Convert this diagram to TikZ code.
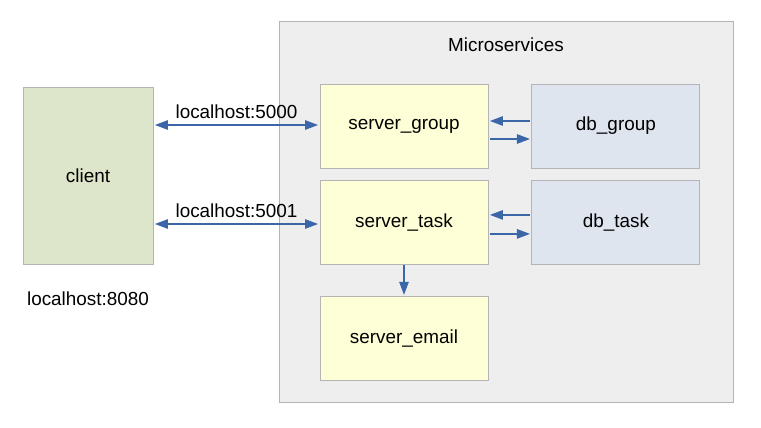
\documentclass[tikz,border=0pt]{standalone}
\usepackage{fontspec}
\setmainfont{Liberation Sans}
\usetikzlibrary{arrows.meta,positioning}

\definecolor{linkblue}{HTML}{3B67A9}
\definecolor{boxgray}{HTML}{B4B4B4}
\definecolor{clientgreen}{HTML}{DDE6CA}
\definecolor{serveryellow}{HTML}{FFFFD7}
\definecolor{dbblue}{HTML}{DFE5EE}
\definecolor{msgray}{HTML}{EEEEEE}

\begin{document}
\begin{tikzpicture}[x=1pt,y=-1pt,>={Triangle[length=13pt,width=9.5pt]},
    every node/.style={font=\fontsize{18.9}{22}\selectfont},
    box/.style={draw=boxgray,line width=0.9pt,minimum width=168pt,minimum height=84pt,inner sep=0pt},
    server/.style={box,fill=serveryellow},
    db/.style={box,fill=dbblue},
    link/.style={draw=linkblue,line width=1.2pt,shorten >=1.5pt,shorten <=1.5pt},
    node distance=12pt and 43pt]

            \useasboundingbox (0,0) rectangle (761,428);

            % container
            \node[draw=boxgray,fill=msgray,line width=0.9pt,minimum width=454pt,minimum height=381pt,inner sep=0pt] (ms) at (506,211.5) {};
            \node (mslabel) [below=14pt of ms.north] {Microservices};

            \node[box,fill=clientgreen,minimum width=130pt,minimum height=177pt] (client) at (88,175.5) {client};
            \node (port) at (88,299) {localhost:8080};

            \node[server] (sg) at (404,126) {server\_group};
            \node[db] (dg) [right=of sg] {db\_group};
            \node[server] (st) [below=of sg] {server\_task};
            \node[db] (dt) [right=of st] {db\_task};
            \node[server] (se) [below=31pt of st] {server\_email};

            \draw[link,<->] (client.east |- 0,125) -- node[above=2.5pt] {localhost:5000} (sg.west |- 0,125);
            \draw[link,<->] (client.east |- 0,224) -- node[above=2.5pt] {localhost:5001} (st.west |- 0,224);

            % yshift is upward here
            \draw[link,->] ([yshift=5pt]dg.west) -- ([yshift=5pt]sg.east);
            \draw[link,->] ([yshift=-13pt]sg.east) -- ([yshift=-13pt]dg.west);
            \draw[link,->] ([yshift=8pt]dt.west) -- ([yshift=8pt]st.east);
            \draw[link,->] ([yshift=-11pt]st.east) -- ([yshift=-11pt]dt.west);

            \draw[link,->,shorten <=0pt] (st.south) -- (se.north);

\end{tikzpicture}
\end{document}
